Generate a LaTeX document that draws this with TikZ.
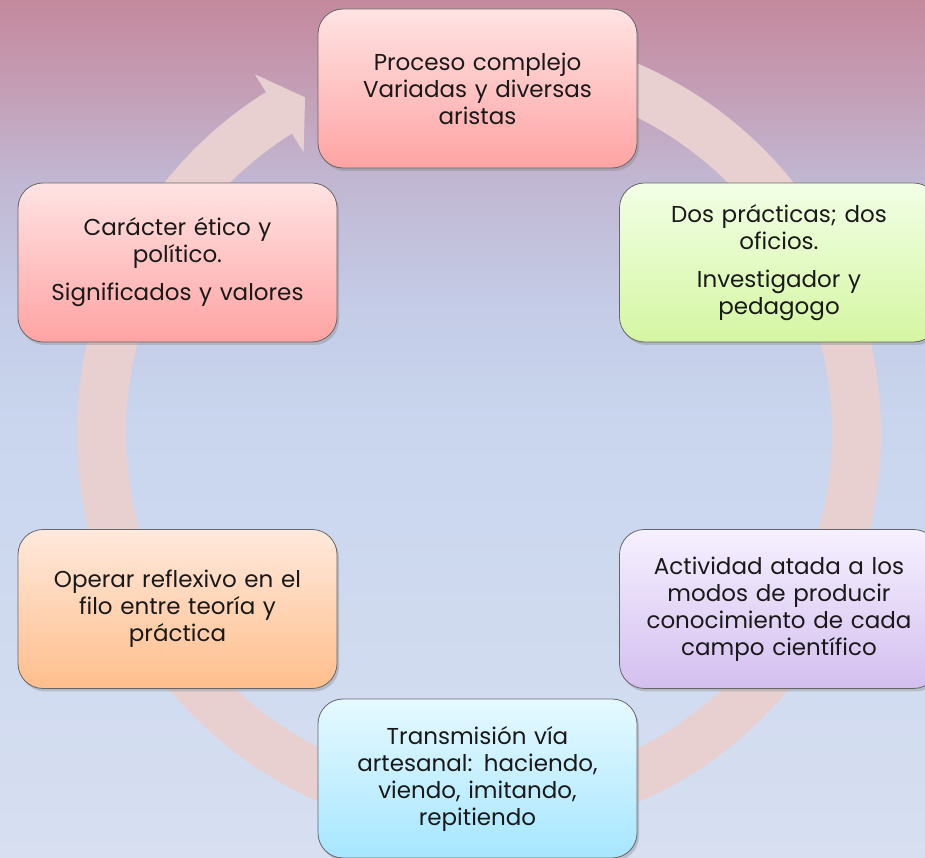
\documentclass[tikz,border=0pt]{standalone}
\usepackage{fontspec}
\setmainfont{Poppins}
\usetikzlibrary{shadows}
\definecolor{bgtop}{HTML}{C4899D}
\definecolor{bgrose}{HTML}{C49CB3}
\definecolor{bglilac}{HTML}{C1B7D2}
\definecolor{bgblue}{HTML}{C4CBE6}
\definecolor{bgmid}{HTML}{C9D6EE}
\definecolor{bgbot}{HTML}{D7DFF1}
\definecolor{ringcol}{HTML}{E8D0D0}
\definecolor{pinktop}{HTML}{FFE3E3}
\definecolor{pinkbot}{HTML}{FFA3A3}
\definecolor{greentop}{HTML}{F2FFE6}
\definecolor{greenbot}{HTML}{D5F6A2}
\definecolor{lilactop}{HTML}{F6F0FF}
\definecolor{lilacbot}{HTML}{D3BFEF}
\definecolor{peachtop}{HTML}{FFE9DC}
\definecolor{peachbot}{HTML}{FFBE8C}
\definecolor{cyantop}{HTML}{E6F9FF}
\definecolor{cyanbot}{HTML}{A6E6FF}
\pgfdeclareverticalshading{bgshade}{100bp}{color(0bp)=(bgbot); color(25bp)=(bgbot); color(50bp)=(bgmid); color(57.5bp)=(bgblue); color(64.5bp)=(bglilac); color(70.3bp)=(bgrose); color(75bp)=(bgtop); color(100bp)=(bgtop)}
\begin{document}
\begin{tikzpicture}[x=1pt,y=1pt]
\tikzstyle{every node}+=[inner sep=0pt]
\tikzstyle{cyclebox}=[draw=black!60, line width=0.8pt, rounded corners=25pt, minimum width=319pt, minimum height=159pt, text width=300pt, align=center, text=black!90, font=\fontsize{23}{27}\selectfont, drop shadow={shadow xshift=2pt, shadow yshift=-3pt, opacity=0.35}]
\shade[shading=bgshade] (0,0) rectangle (925,858);
\useasboundingbox (0,0) rectangle (925,858);
\coordinate (ring) at (479,425);
\fill[ringcol] ([shift={(ring)}]95:402) arc[start angle=95, end angle=-238, radius=402] -- ([shift={(ring)}]-238:423) -- ([shift={(ring)}]-242.6:378) -- ([shift={(ring)}]-238:331) -- ([shift={(ring)}]-238:353) arc[start angle=-238, end angle=95, radius=353] -- cycle;
\node[cyclebox, top color=pinktop, bottom color=pinkbot] (proceso) at (477.5,769.5) {Proceso complejo\\Variadas y diversas\\aristas};
\node[cyclebox, top color=greentop, bottom color=greenbot] (practicas) at (779,595.5) {Dos prácticas; dos\\oficios.\\[11pt]Investigador y\\pedagogo};
\node[cyclebox, top color=lilactop, bottom color=lilacbot] (actividad) at (779,249) {Actividad atada a los\\modos de producir\\conocimiento de cada\\campo científico};
\node[cyclebox, top color=cyantop, bottom color=cyanbot] (transmision) at (477.5,79.5) {Transmisión vía\\artesanal: haciendo,\\viendo, imitando,\\repitiendo};
\node[cyclebox, top color=peachtop, bottom color=peachbot] (operar) at (177.5,249) {Operar reflexivo en el\\filo entre teoría y\\práctica};
\node[cyclebox, top color=pinktop, bottom color=pinkbot] (caracter) at (177.5,595.5) {Carácter ético y\\político.\\[11pt]Significados y valores};
\end{tikzpicture}
\end{document}
